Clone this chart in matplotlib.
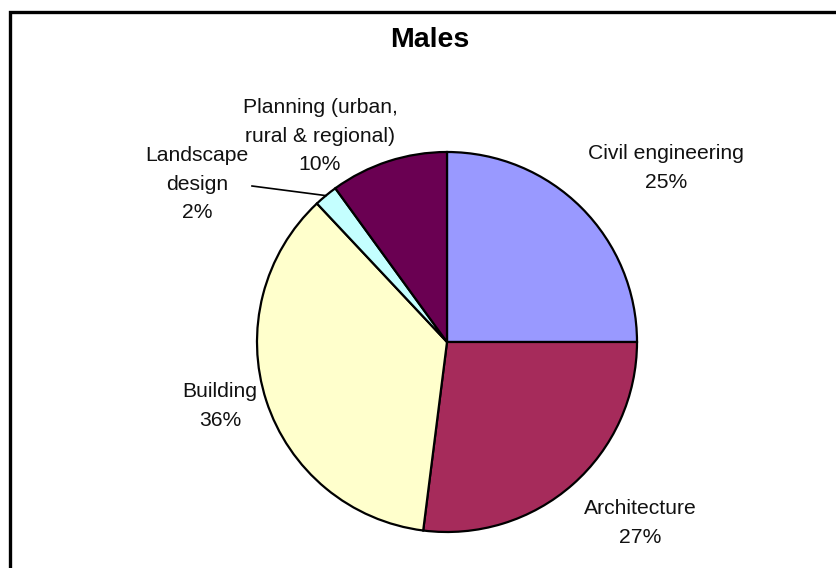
import matplotlib.pyplot as plt
import numpy as np

# share of male graduates by discipline
categories = ['Civil engineering', 'Architecture', 'Building',
              'Landscape\ndesign', 'Planning (urban,\nrural & regional)']
shares = [25, 27, 36, 2, 10]
colors = ['#9999FF', '#A62B5B', '#FFFFCC', '#C4FFFF', '#6A0052']

W, H = 836, 568
plt.rcParams['font.family'] = ['Liberation Sans', 'DejaVu Sans']

fig = plt.figure(figsize=(W / 100, H / 100), dpi=100)
ax = fig.add_axes([0, 0, 1, 1])

cx, cy, rad = 447, H - 342, 190
wedges, _ = ax.pie(shares, colors=colors, startangle=90, counterclock=False,
                   center=(cx, cy), radius=rad, frame=True,
                   wedgeprops=dict(edgecolor='black', linewidth=1.6))
ax.set_xlim(0, W)
ax.set_ylim(0, H)
ax.set_aspect('equal')
ax.axis('off')

# outer frame (runs off the right and bottom)
ax.plot([10, 10, W + 20], [-20, H - 12, H - 12], color='black', lw=2.4,
        solid_joinstyle='miter', clip_on=False)

ax.text(430, H - 40, 'Males', ha='center', va='center',
        fontsize=20.5, fontweight='bold')

# label centres, top-left origin
label_pos = [(666, 168), (640, 523), (220, 406), (197, 184), (320, 136)]
for name, val, (lx, ly) in zip(categories, shares, label_pos):
    ax.text(lx, H - ly, f'{name}\n{val}%', ha='center', va='center',
            fontsize=15.2, linespacing=1.65, color='#111111')

# leader line to the thin landscape slice
w = wedges[3]
mid = np.radians((w.theta1 + w.theta2) / 2)
ax.plot([252, cx + rad * np.cos(mid)], [H - 186, cy + rad * np.sin(mid)],
        color='black', lw=1.2)

fig.savefig('out.png', dpi=100)
